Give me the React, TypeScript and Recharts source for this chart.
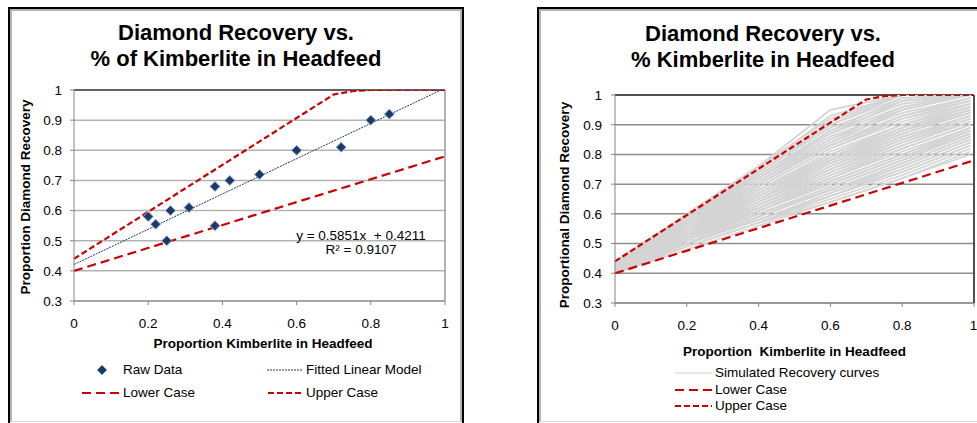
import { ComposedChart, Line, Scatter, XAxis, YAxis, CartesianGrid, ReferenceLine } from 'recharts';

// left chart: raw observations
const rawX = [0.2, 0.22, 0.25, 0.26, 0.31, 0.38, 0.38, 0.42, 0.5, 0.6, 0.72, 0.8, 0.85];
const rawY = [0.58, 0.555, 0.5, 0.6, 0.61, 0.68, 0.55, 0.7, 0.72, 0.8, 0.81, 0.9, 0.92];

// fitted model end points (y = 0.5851x + 0.4211)
const fitX = [0, 1];
const fitY = [0.4211, 1.0062];

// bounding cases
const lowerX = [0, 1];
const lowerY = [0.4, 0.78];
const upperX = [0, 0.7, 0.75, 0.8, 1];
const upperY = [0.44, 0.985, 0.996, 1.0, 1.0];

// right chart: simulated recovery curves, sampled at simX
const simX = [0, 0.2, 0.4, 0.6, 0.8, 0.99];
const simCurves = [
  [0.44, 0.6, 0.76, 0.95, 1.0, 1.0],
  [0.43, 0.6, 0.76, 0.92, 1.0, 1.0],
  [0.43, 0.59, 0.75, 0.93, 1.0, 1.0],
  [0.44, 0.59, 0.75, 0.91, 1.0, 1.0],
  [0.42, 0.58, 0.74, 0.9, 1.0, 1.0],
  [0.42, 0.59, 0.74, 0.9, 0.99, 1.0],
  [0.44, 0.59, 0.73, 0.88, 0.99, 1.0],
  [0.43, 0.58, 0.74, 0.89, 0.98, 1.0],
  [0.41, 0.57, 0.72, 0.87, 0.98, 1.0],
  [0.41, 0.58, 0.73, 0.88, 0.97, 1.0],
  [0.42, 0.58, 0.73, 0.87, 0.96, 1.0],
  [0.43, 0.58, 0.72, 0.85, 0.96, 1.0],
  [0.43, 0.57, 0.72, 0.86, 0.95, 1.0],
  [0.42, 0.56, 0.7, 0.84, 0.95, 1.0],
  [0.42, 0.57, 0.71, 0.85, 0.94, 0.99],
  [0.4, 0.56, 0.7, 0.83, 0.93, 0.99],
  [0.41, 0.56, 0.71, 0.84, 0.93, 0.99],
  [0.43, 0.57, 0.7, 0.83, 0.93, 0.98],
  [0.43, 0.56, 0.69, 0.82, 0.92, 0.98],
  [0.42, 0.56, 0.7, 0.83, 0.92, 0.97],
  [0.41, 0.55, 0.69, 0.82, 0.91, 0.97],
  [0.41, 0.55, 0.68, 0.8, 0.9, 0.97],
  [0.42, 0.55, 0.68, 0.81, 0.9, 0.96],
  [0.42, 0.55, 0.67, 0.79, 0.89, 0.96],
  [0.4, 0.55, 0.68, 0.8, 0.89, 0.96],
  [0.43, 0.56, 0.68, 0.79, 0.89, 0.95],
  [0.4, 0.54, 0.67, 0.78, 0.88, 0.95],
  [0.41, 0.54, 0.67, 0.79, 0.88, 0.95],
  [0.42, 0.54, 0.66, 0.78, 0.88, 0.94],
  [0.43, 0.55, 0.66, 0.77, 0.87, 0.94],
  [0.4, 0.53, 0.66, 0.78, 0.87, 0.94],
  [0.42, 0.54, 0.65, 0.77, 0.86, 0.93],
  [0.41, 0.53, 0.65, 0.76, 0.86, 0.93],
  [0.41, 0.53, 0.65, 0.76, 0.85, 0.93],
  [0.43, 0.54, 0.65, 0.75, 0.85, 0.92],
  [0.42, 0.53, 0.64, 0.75, 0.85, 0.92],
  [0.4, 0.52, 0.64, 0.75, 0.84, 0.92],
  [0.42, 0.53, 0.64, 0.74, 0.84, 0.91],
  [0.4, 0.52, 0.63, 0.73, 0.83, 0.91],
  [0.41, 0.52, 0.63, 0.74, 0.83, 0.91],
  [0.42, 0.53, 0.63, 0.73, 0.82, 0.9],
  [0.43, 0.53, 0.63, 0.72, 0.82, 0.9],
  [0.4, 0.51, 0.62, 0.72, 0.82, 0.9],
  [0.41, 0.52, 0.62, 0.72, 0.81, 0.89],
  [0.43, 0.53, 0.62, 0.71, 0.8, 0.89],
  [0.41, 0.52, 0.61, 0.71, 0.8, 0.89],
  [0.4, 0.51, 0.61, 0.71, 0.8, 0.88],
  [0.42, 0.52, 0.61, 0.7, 0.79, 0.88],
  [0.42, 0.51, 0.61, 0.7, 0.79, 0.87],
  [0.41, 0.51, 0.6, 0.69, 0.78, 0.87],
  [0.4, 0.5, 0.6, 0.69, 0.78, 0.87],
  [0.42, 0.51, 0.6, 0.68, 0.77, 0.86],
  [0.4, 0.5, 0.59, 0.68, 0.77, 0.86],
  [0.41, 0.5, 0.59, 0.68, 0.76, 0.85],
  [0.4, 0.5, 0.58, 0.67, 0.76, 0.85],
  [0.42, 0.5, 0.58, 0.66, 0.75, 0.84],
  [0.41, 0.5, 0.58, 0.67, 0.75, 0.84],
  [0.41, 0.5, 0.58, 0.66, 0.74, 0.83],
  [0.4, 0.49, 0.57, 0.66, 0.74, 0.83],
  [0.4, 0.49, 0.57, 0.65, 0.73, 0.82],
  [0.41, 0.49, 0.57, 0.64, 0.72, 0.81],
  [0.4, 0.48, 0.56, 0.64, 0.72, 0.8],
];

const xTicks = [0, 0.2, 0.4, 0.6, 0.8, 1];
const yTicks = [0.3, 0.4, 0.5, 0.6, 0.7, 0.8, 0.9, 1];

const zip = (xs: number[], ys: number[]) => xs.map((x, i) => ({ x, y: ys[i] }));
const rawData = zip(rawX, rawY);
const fitData = zip(fitX, fitY);
const lowerData = zip(lowerX, lowerY);
const upperData = zip(upperX, upperY);
const simData = simCurves.map(c => zip(simX, c));

const FONT = '"Liberation Sans", Arial, sans-serif';
const RED = '#cc0000';
const NAVY = '#1f3864';
const SIM = '#d4d4d4';
const tickStyle = { fill: '#000', fontSize: 13.5, fontFamily: FONT };

const Diamond = (p: any) => {
  const { cx, cy } = p;
  if (cx == null || cy == null) return null;
  const r = 5;
  return (
    <polygon
      points={`${cx},${cy - r} ${cx + r},${cy} ${cx},${cy + r} ${cx - r},${cy}`}
      fill={NAVY}
      stroke="#8db3e2"
      strokeWidth={1}
    />
  );
};

const abs = (left: number, top: number, extra: any = {}) => ({ position: 'absolute' as const, left, top, ...extra });

function Frame({ left, width }: { left: number; width: number }) {
  return (
    <div style={abs(left, 7, { width, height: 440, borderTop: '2px solid #000', borderLeft: '2px solid #000', borderRight: '2px solid #000', boxSizing: 'border-box' })}>
      <div style={{ width: '100%', height: 413, borderTop: '2px solid #b4b4b4', borderLeft: '2px solid #b4b4b4', borderRight: '2px solid #b4b4b4', borderBottom: '1px solid #d8d8d8', boxSizing: 'border-box' }} />
    </div>
  );
}

function Title({ cx, top, lines }: { cx: number; top: number; lines: string[] }) {
  return (
    <div style={abs(cx - 200, top, { width: 400, textAlign: 'center', fontFamily: FONT, fontWeight: 'bold', fontSize: 22, lineHeight: '26px' })}>
      {lines.map(l => <div key={l}>{l}</div>)}
    </div>
  );
}

function Text({ x, y, children, bold, anchor = 'left' }: any) {
  const style: any = { fontFamily: FONT, fontSize: 13.5, lineHeight: '16px', whiteSpace: 'pre', fontWeight: bold ? 'bold' : 'normal' };
  if (anchor === 'center') return <div style={abs(x - 200, y - 8, { ...style, width: 400, textAlign: 'center' })}>{children}</div>;
  return <div style={abs(x, y - 8, style)}>{children}</div>;
}

function VText({ cx, cy, children }: any) {
  return (
    <div style={abs(cx - 150, cy - 8, { width: 300, height: 16, lineHeight: '16px', textAlign: 'center', fontFamily: FONT, fontWeight: 'bold', fontSize: 13.5, transform: 'rotate(-90deg)' })}>
      {children}
    </div>
  );
}

function Swatch({ x, y, w, dash, color, width = 2 }: any) {
  return (
    <svg style={abs(x, y - 3)} width={w} height={6}>
      <line x1={0} y1={3} x2={w} y2={3} stroke={color} strokeWidth={width} strokeDasharray={dash} />
    </svg>
  );
}

function LeftChart() {
  return (
    <div style={abs(0, 0)}>
      <ComposedChart width={470} height={423} data={rawData} margin={{ top: 90, right: 25, left: 0, bottom: 92 }}>
        <CartesianGrid vertical={false} stroke="#b3b3b3" strokeWidth={1.5} />
        <XAxis type="number" dataKey="x" domain={[0, 1]} ticks={xTicks} height={30} tickSize={4} tickMargin={13}
          stroke="#868686" tick={tickStyle} tickFormatter={(v: number) => String(v)} />
        <YAxis type="number" dataKey="y" domain={[0.3, 1]} ticks={yTicks} width={74} tickSize={4} tickMargin={8}
          stroke="#868686" tick={tickStyle} allowDataOverflow tickFormatter={(v: number) => String(v)} />
        <ReferenceLine y={1} stroke="#404040" strokeWidth={1.5} />
        <ReferenceLine x={1} stroke="#9a9a9a" strokeWidth={1.5} />
        <Line data={lowerData} dataKey="y" stroke={RED} strokeWidth={2.2} strokeDasharray="9 5" dot={false} activeDot={false} isAnimationActive={false} />
        <Line data={upperData} dataKey="y" stroke={RED} strokeWidth={2.2} strokeDasharray="6 3" dot={false} activeDot={false} isAnimationActive={false} />
        <Line data={fitData} dataKey="y" stroke={NAVY} strokeWidth={1} strokeDasharray="2 1" dot={false} activeDot={false} isAnimationActive={false} />
        <Scatter data={rawData} dataKey="y" shape={Diamond} isAnimationActive={false} />
      </ComposedChart>
    </div>
  );
}

function RightChart() {
  return (
    <div style={abs(530, 0)}>
      <ComposedChart width={447} height={423} margin={{ top: 95, right: 3, left: 0, bottom: 90 }}>
        <CartesianGrid vertical={false} stroke="#8e8e8e" strokeWidth={1.5} />
        <XAxis type="number" dataKey="x" domain={[0, 1]} ticks={xTicks} height={30} tickSize={4} tickMargin={13}
          stroke="#868686" tick={tickStyle} tickFormatter={(v: number) => String(v)} />
        <YAxis type="number" dataKey="y" domain={[0.3, 1]} ticks={yTicks} width={85} tickSize={4} tickMargin={9}
          stroke="#868686" tick={tickStyle} allowDataOverflow tickFormatter={(v: number) => String(v)} />
        <ReferenceLine y={1} stroke="#505050" strokeWidth={2} />
        <ReferenceLine x={1} stroke="#505050" strokeWidth={2} />
        {simData.map((d, i) => (
          <Line key={i} data={d} dataKey="y" stroke={SIM} strokeWidth={1.7} dot={false} activeDot={false} isAnimationActive={false} />
        ))}
        <Line data={lowerData} dataKey="y" stroke={RED} strokeWidth={2.2} strokeDasharray="9 5" dot={false} activeDot={false} isAnimationActive={false} />
        <Line data={upperData} dataKey="y" stroke={RED} strokeWidth={2.2} strokeDasharray="6 3" dot={false} activeDot={false} isAnimationActive={false} />
      </ComposedChart>
    </div>
  );
}

export default function App() {
  return (
    <div style={abs(0, 0, { width: 977, height: 423, overflow: 'hidden', background: '#fff' })}>
      <Frame left={8} width={456} />
      <Frame left={537} width={460} />

      <LeftChart />
      <Title cx={236} top={20} lines={['Diamond Recovery vs.', '% of Kimberlite in Headfeed']} />
      <Text x={263} y={344} bold anchor="center">Proportion Kimberlite in Headfeed</Text>
      <VText cx={26} cy={197}>Proportion Diamond Recovery</VText>
      <Text x={361} y={236} anchor="center">y = 0.5851x  + 0.4211</Text>
      <Text x={361} y={250} anchor="center">R² = 0.9107</Text>

      <svg style={abs(96, 364)} width={12} height={12}>
        <Diamond cx={6} cy={6} />
      </svg>
      <Text x={123} y={370}>Raw Data</Text>
      <Swatch x={267} y={370} w={35} dash="2 1" color={NAVY} width={1} />
      <Text x={306} y={370}>Fitted Linear Model</Text>
      <Swatch x={82} y={393} w={38} dash="9 5" color={RED} />
      <Text x={123} y={393}>Lower Case</Text>
      <Swatch x={268} y={393} w={34} dash="6 3" color={RED} />
      <Text x={306} y={393}>Upper Case</Text>

      <RightChart />
      <Title cx={763} top={21} lines={['Diamond Recovery vs.', '% Kimberlite in Headfeed']} />
      <Text x={794.5} y={352} bold anchor="center">Proportion  Kimberlite in Headfeed</Text>
      <VText cx={565} cy={205}>Proportional Diamond Recovery</VText>

      <Swatch x={675} y={373} w={37} color={SIM} width={1} />
      <Text x={715} y={373}>Simulated Recovery curves</Text>
      <Swatch x={675} y={390} w={37} dash="9 5" color={RED} />
      <Text x={715} y={390}>Lower Case</Text>
      <Swatch x={675} y={406} w={37} dash="6 3" color={RED} />
      <Text x={715} y={406}>Upper Case</Text>
    </div>
  );
}
